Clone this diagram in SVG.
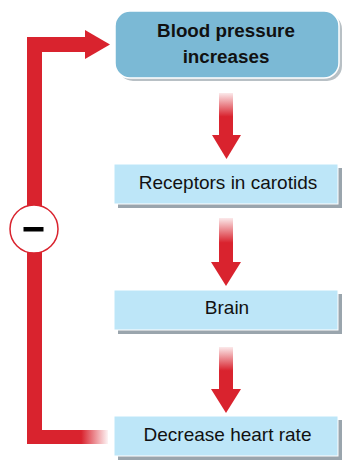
<svg xmlns="http://www.w3.org/2000/svg" width="345" height="461" viewBox="0 0 345 461">
<defs>
<linearGradient id="shaft" x1="0" y1="0" x2="0" y2="1">
<stop offset="0" stop-color="#d9232e" stop-opacity="0.1"/>
<stop offset="0.55" stop-color="#d9232e" stop-opacity="1"/>
<stop offset="1" stop-color="#d9232e"/>
</linearGradient>
<linearGradient id="fadeH" x1="0" y1="0" x2="1" y2="0">
<stop offset="0" stop-color="#d9232e"/>
<stop offset="0.6" stop-color="#d9232e"/>
<stop offset="1" stop-color="#d9232e" stop-opacity="0.05"/>
</linearGradient>
</defs>
<style>
.box{fill:#bde6f8;stroke:#ffffff;stroke-width:1}
.shadow{fill:#9aa5ad}
.lbl{font-family:"Liberation Sans",Arial,sans-serif;font-size:19px;fill:#111;text-anchor:middle}
.bold{font-weight:bold;font-size:18.8px}
.red{fill:#d9232e}
</style>
<g id="connectors">
<rect class="red" x="27" y="37" width="15" height="407"/>
<rect class="red" x="27" y="37" width="60" height="15"/>
<polygon class="red" points="85,30 110,44.5 85,59"/>
<rect x="41" y="430" width="67" height="14" fill="url(#fadeH)"/>
<g id="minus">
<circle cx="34" cy="229" r="24" fill="#ffffff" stroke="#d9232e" stroke-width="1.5"/>
<rect x="23.5" y="227" width="20" height="4.5" fill="#000"/>
</g>
<rect x="219" y="93" width="14" height="43" fill="url(#shaft)"/>
<polygon class="red" points="212,135 241,135 226.5,159"/>
<rect x="219" y="218" width="14" height="45" fill="url(#shaft)"/>
<polygon class="red" points="211,262 241,262 226,286"/>
<rect x="219" y="347" width="14" height="43" fill="url(#shaft)"/>
<polygon class="red" points="211,389 241,389 226,413"/>
</g>
<g id="node-bp">
<rect x="118" y="14" width="224" height="67" rx="15" class="shadow" opacity="0.7"/>
<rect x="115" y="11" width="224" height="67" rx="15" fill="#7bb9d5" stroke="#ffffff" stroke-width="1.5"/>
<text class="lbl bold" x="226" y="37">Blood pressure</text>
<text class="lbl bold" x="226" y="63">increases</text>
</g>
<g id="node-receptors">
<rect x="118" y="168" width="224" height="40" class="shadow"/>
<rect x="114" y="164" width="224" height="40" class="box"/>
<text class="lbl" x="228" y="189">Receptors in carotids</text>
</g>
<g id="node-brain">
<rect x="118" y="294" width="224" height="40" class="shadow"/>
<rect x="114" y="290" width="224" height="40" class="box"/>
<text class="lbl" x="227" y="314">Brain</text>
</g>
<g id="node-decrease">
<rect x="118" y="420" width="224" height="40" class="shadow"/>
<rect x="114" y="416" width="224" height="40" class="box"/>
<text class="lbl" x="227.5" y="441">Decrease heart rate</text>
</g>
</svg>
